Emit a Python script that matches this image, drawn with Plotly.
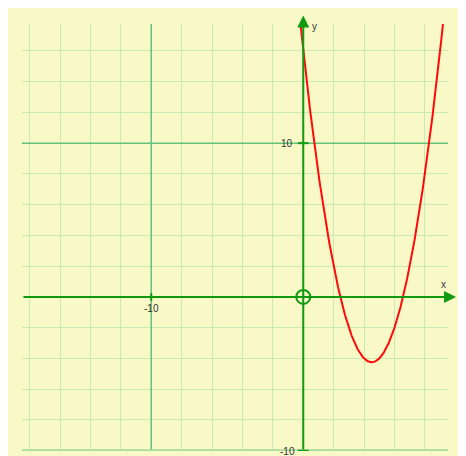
import numpy as np
import plotly.graph_objects as go

# Function y = x^2 - 9x + 16 (coefficients)
coefficients = [1, -9, 16]
x_range = [-18.5, 9.52]
y_range = [-10.02, 17.75]
tick_labels_x = ["-10"]
tick_values_x = [-10]
tick_labels_y = ["10", "-10"]
tick_values_y = [10, -10]

BG = "#f9f9c8"
GRID = "#c6ebb4"
MID = "#64c27a"
AXIS = "#109a10"

# page body has an 8px margin: figure is sized to fit the window
W, H = 458, 448
ML, MR, MT, MB = 14, 18, 16, 5
PW, PH = W - ML - MR, H - MT - MB

xs = np.linspace(-0.3, 9.3, 400)
ys = np.polyval(coefficients, xs)

fig = go.Figure()
# medium green lines at x=-10 and y=10, bottom border
fig.add_trace(go.Scatter(x=[-10, -10], y=y_range, mode="lines",
                         line=dict(color=MID, width=1.5), hoverinfo="skip"))
fig.add_trace(go.Scatter(x=x_range, y=[10, 10], mode="lines",
                         line=dict(color=MID, width=1.5), hoverinfo="skip"))
fig.add_trace(go.Scatter(x=x_range, y=[-10, -10], mode="lines",
                         line=dict(color="#a6dc9e", width=3), hoverinfo="skip",
                         cliponaxis=False))
fig.add_trace(go.Scatter(x=xs, y=ys, mode="lines",
                         line=dict(color="#ff0a0a", width=2), hoverinfo="skip"))
fig.add_trace(go.Scatter(x=[0], y=[0], mode="markers",
                         marker=dict(symbol="circle-open", size=14, color=AXIS,
                                     line=dict(width=2, color=AXIS)),
                         cliponaxis=False, hoverinfo="skip"))

shapes = []
# background panel (yellow)
shapes.append(dict(type="rect", xref="paper", yref="paper",
                   x0=-ML / PW - 0.01, x1=1 + MR / PW + 0.01,
                   y0=-MB / PH - 0.01, y1=1 + MT / PH + 0.01,
                   fillcolor=BG, line=dict(width=0), layer="below"))
# tick marks
for tv in tick_values_x:
    shapes.append(dict(type="line", x0=tv, x1=tv, y0=-0.25, y1=0.25,
                       line=dict(color=AXIS, width=2)))
for tv in tick_values_y:
    shapes.append(dict(type="line", x0=-0.35, x1=0.35, y0=tv, y1=tv,
                       line=dict(color=AXIS, width=2)))

annotations = []
# axes with arrows
annotations.append(dict(x=10.05, y=0, ax=x_range[0], ay=0, xref="x", yref="y",
                        axref="x", ayref="y", text="", showarrow=True,
                        arrowhead=2, arrowsize=1.2, arrowwidth=2, arrowcolor=AXIS))
annotations.append(dict(x=0, y=18.3, ax=0, ay=-10, xref="x", yref="y",
                        axref="x", ayref="y", text="", showarrow=True,
                        arrowhead=2, arrowsize=1.2, arrowwidth=2, arrowcolor=AXIS))
font = dict(family="Liberation Sans, Arial, sans-serif", size=10, color="#333333")
for lab, tv in zip(tick_labels_x, tick_values_x):
    annotations.append(dict(x=tv, y=-0.78, text=lab, showarrow=False, font=font))
for lab, tv in zip(tick_labels_y, tick_values_y):
    annotations.append(dict(x=-1.05, y=tv, yshift=(-1 if tv < 0 else 0), text=lab,
                            showarrow=False, font=font))
annotations.append(dict(x=9.2, y=0.78, text="x", showarrow=False, font=font))
annotations.append(dict(x=0.72, y=17.6, text="y", showarrow=False, font=font))

fig.update_layout(
    width=W, height=H,
    margin=dict(l=ML, r=MR, t=MT, b=MB),
    paper_bgcolor="white", plot_bgcolor="rgba(0,0,0,0)",
    showlegend=False,
    shapes=shapes, annotations=annotations,
    xaxis=dict(range=x_range, dtick=2, tick0=0, showgrid=True, gridcolor=GRID,
               gridwidth=1, zeroline=False, showticklabels=False, ticks="",
               showline=False, fixedrange=True),
    yaxis=dict(range=y_range, dtick=2, tick0=0, showgrid=True, gridcolor=GRID,
               gridwidth=1, zeroline=False, showticklabels=False, ticks="",
               showline=False, fixedrange=True),
)
fig.write_html("out.html", config=dict(displayModeBar=False))
